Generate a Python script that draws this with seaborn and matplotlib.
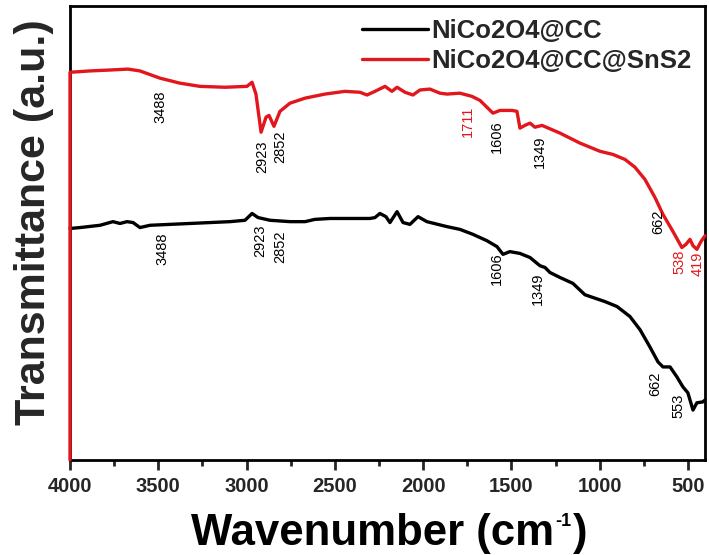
import numpy as np
import pandas as pd
import matplotlib
matplotlib.use("Agg")
import matplotlib.pyplot as plt
from matplotlib.offsetbox import TextArea, HPacker, AnchoredOffsetbox
import seaborn as sns

# ---------------- data ----------------
series_names = ["NiCo2O4@CC", "NiCo2O4@CC@SnS2"]

black_wn = [4000, 3943, 3830, 3757, 3717, 3677, 3643, 3604, 3547, 3434, 3320, 3207, 3094,
            3009, 2969, 2935, 2867, 2754, 2669, 2613, 2528, 2414, 2301, 2273, 2245,
            2211, 2188, 2148, 2114, 2075, 2029, 1979, 1865, 1792, 1718, 1639, 1582,
            1548, 1509, 1452, 1395, 1339, 1310, 1282, 1225, 1152, 1084, 1039, 971,
            902, 829, 772, 716, 670, 642, 602, 563, 529, 501, 472, 450, 416, 404]
black_t = [51.0, 51.2, 51.7, 52.5, 52.1, 52.5, 52.3, 51.2, 51.7, 51.9, 52.1, 52.3, 52.5,
           52.8, 54.3, 53.4, 52.8, 52.5, 52.5, 53.0, 53.2, 53.2, 53.2, 53.4, 54.3,
           53.6, 52.3, 54.7, 52.3, 51.9, 53.6, 52.5, 51.4, 50.8, 49.7, 48.3, 47.0,
           45.3, 45.9, 45.5, 44.6, 42.8, 42.4, 41.3, 40.2, 38.9, 36.4, 35.8, 34.9,
           33.8, 31.6, 28.7, 24.9, 21.6, 20.5, 20.5, 18.3, 16.1, 14.8, 11.0, 12.6,
           12.8, 13.2]

red_wn = [4000, 4000, 3887, 3773, 3672, 3604, 3490, 3377, 3264, 3122, 2998, 2969,
          2947, 2918, 2890, 2873, 2845, 2811, 2754, 2669, 2556, 2443, 2358, 2318,
          2273, 2216, 2177, 2148, 2103, 2058, 2018, 1962, 1905, 1865, 1792, 1724,
          1678, 1605, 1565, 1497, 1469, 1452, 1424, 1395, 1367, 1327, 1225, 1112,
          999, 925, 857, 801, 744, 687, 642, 585, 535, 512, 489, 472, 450, 427, 404]
red_t = [0.0, 85.4, 85.7, 85.9, 86.1, 85.7, 84.1, 83.0, 82.3, 82.1, 82.3, 83.2,
         80.6, 72.2, 75.5, 75.9, 73.5, 76.8, 78.6, 79.7, 80.6, 81.2, 81.0, 80.4,
         81.2, 82.3, 81.2, 82.1, 81.0, 80.4, 81.5, 81.7, 80.8, 80.6, 80.8, 80.1,
         79.2, 76.4, 77.0, 77.0, 76.8, 73.1, 73.7, 74.2, 73.3, 73.7, 72.0, 69.8,
         68.0, 67.3, 66.2, 64.5, 61.8, 57.8, 54.1, 50.3, 46.8, 47.5, 48.6, 47.2,
         46.4, 48.1, 49.4]

# peak labels: text, colour key
red_peak_labels = ["3488", "2923", "2852", "1711", "1606", "1349", "662", "538", "419"]
red_peak_is_red = [False, False, False, True, False, False, False, True, True]
black_peak_labels = ["3488", "2923", "2852", "1606", "1349", "662", "553"]

x_ticks = [4000, 3500, 3000, 2500, 2000, 1500, 1000, 500]
x_label_parts = ["Wavenumber (cm", "-1", ")"]
y_label = "Transmittance (a.u.)"

# ---------------- positions of peak labels (layout) ----------------
red_label_pos = [(3490, 77.9), (2913, 66.9), (2811, 69.1), (1746, 74.6),
                 (1582, 71.3), (1339, 68.0), (670, 52.5), (546, 43.7), (444, 43.3)]
black_label_pos = [(3479, 46.6), (2924, 48.3), (2811, 47.0), (1582, 42.2),
                   (1350, 37.7), (687, 16.8), (557, 11.9)]

RED = "#e2161d"

df = pd.concat([
    pd.DataFrame({"wn": black_wn, "T": black_t, "sample": series_names[0]}),
    pd.DataFrame({"wn": red_wn, "T": red_t, "sample": series_names[1]}),
])

sns.set_theme(style="white")
plt.rcParams["font.family"] = ["Liberation Sans", "DejaVu Sans"]

fig = plt.figure(figsize=(7.09, 5.55), dpi=100)
ax = fig.add_axes([70 / 709, 1 - 460 / 555, 635 / 709, 454 / 555])

sns.lineplot(data=df, x="wn", y="T", hue="sample", hue_order=series_names,
             palette=["black", RED], sort=False, estimator=None, units="sample",
             linewidth=2.4, ax=ax, legend=True)
for ln in ax.lines:
    ln.set_clip_on(False)
    ln.set_zorder(3)

ax.set_xlim(4000, 404)
ax.set_ylim(0, 100)
ax.set_xticks(x_ticks)
ax.set_xticks(np.arange(3750, 400, -500), minor=True)
ax.set_yticks([])
ax.tick_params(axis="x", which="major", direction="out", length=7, width=2,
               bottom=True, labelsize=14.5, pad=5)
ax.tick_params(axis="x", which="minor", direction="out", length=4, width=2,
               bottom=True)
for lbl in ax.get_xticklabels():
    lbl.set_fontweight("bold")
for sp in ax.spines.values():
    sp.set_linewidth(2)
    sp.set_color("black")

# x label with a small superscript, built from real text pieces
ax.set_xlabel("")
main_props = dict(fontsize=31.5, fontweight="bold", color="black")
sup_props = dict(fontsize=13, fontweight="bold", color="black")
xl_box = HPacker(children=[TextArea(x_label_parts[0], textprops=main_props),
                           TextArea(x_label_parts[1], textprops=sup_props),
                           TextArea(x_label_parts[2], textprops=main_props)],
                 align="top", pad=0, sep=1)
anch = AnchoredOffsetbox(loc="upper center", child=xl_box, pad=0, borderpad=0,
                         frameon=False, bbox_to_anchor=(0.503, -0.116),
                         bbox_transform=ax.transAxes)
ax.add_artist(anch)

ax.set_ylabel(y_label, fontsize=31, fontweight="bold")
ax.yaxis.set_label_coords(-0.025, 0.524)

for txt, is_red, (px, py) in zip(red_peak_labels, red_peak_is_red, red_label_pos):
    ax.text(px, py, txt, rotation=90, ha="center", va="center", fontsize=10.5,
            color=RED if is_red else "black")
for txt, (px, py) in zip(black_peak_labels, black_label_pos):
    ax.text(px, py, txt, rotation=90, ha="center", va="center", fontsize=10.5,
            color="black")

leg = ax.legend(loc="upper right", bbox_to_anchor=(0.9945, 0.9945), frameon=False,
                handlelength=2.6, handletextpad=0.1, labelspacing=0.25,
                borderaxespad=0.0, prop={"weight": "bold", "size": 18.5})
for h in leg.get_lines():
    h.set_linewidth(2.4)

fig.savefig("out.png", dpi=100)
